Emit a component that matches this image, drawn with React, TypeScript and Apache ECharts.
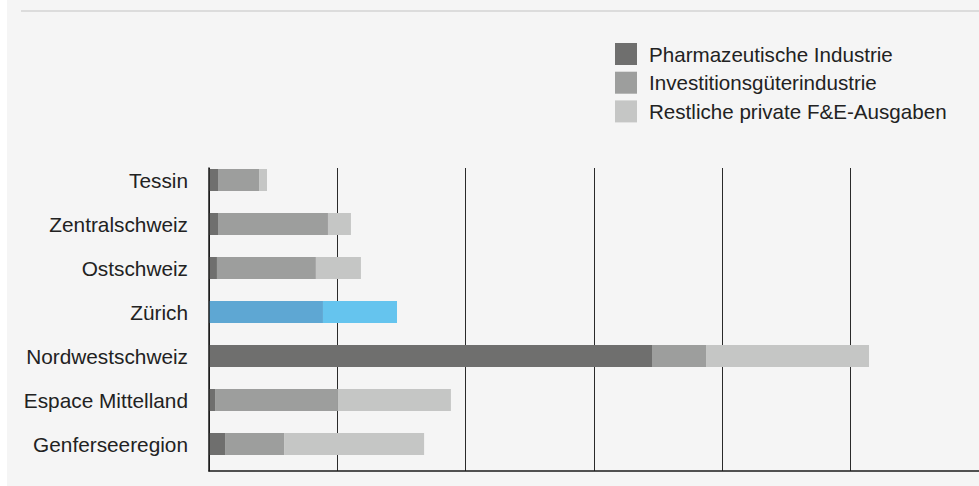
import React, { useEffect, useRef } from "react";
import * as echarts from "echarts";

const regions = [
  "Tessin",
  "Zentralschweiz",
  "Ostschweiz",
  "Zürich",
  "Nordwestschweiz",
  "Espace Mittelland",
  "Genferseeregion",
];
const seriesNames = [
  "Pharmazeutische Industrie",
  "Investitionsgüterindustrie",
  "Restliche private F&E-Ausgaben",
];
const pharma = [70, 70, 62, 0, 3452, 47, 125];
const invest = [320, 857, 771, 888, 421, 958, 460];
const rest = [62, 179, 351, 577, 1270, 880, 1091];
const axisMax = 6000;
const axisInterval = 1000;
const highlighted = "Zürich";

const grayColors = ["#6f6f6e", "#9d9e9d", "#c5c6c5"];
const blueColors = ["#5ea7d3", "#5ea7d3", "#65c4ee"];
const FONT = "'Liberation Sans', Arial, Helvetica, sans-serif";

export default function App() {
  const ref = useRef<HTMLDivElement>(null);
  useEffect(() => {
    if (!ref.current) return;
    const chart = echarts.init(ref.current, null, { renderer: "svg" });
    const values = [pharma, invest, rest];
    const series = seriesNames.map((name, si) => ({
      name,
      type: "bar",
      stack: "total",
      xAxisIndex: 0,
      yAxisIndex: 0,
      barWidth: 22,
      itemStyle: { color: grayColors[si] },
      data: values[si].map((v, i) =>
        regions[i] === highlighted
          ? { value: v, itemStyle: { color: blueColors[si] } }
          : v
      ),
      z: 2,
    }));
    chart.setOption({
      animation: false,
      backgroundColor: "transparent",
      textStyle: { fontFamily: FONT },
      graphic: [
        {
          type: "rect",
          shape: { x: 7, y: 0, width: 972, height: 486 },
          style: { fill: "#f5f5f5" },
          z: -10,
          silent: true,
        },
        {
          type: "rect",
          shape: { x: 21, y: 10, width: 958, height: 2 },
          style: { fill: "#dcdcdc" },
          z: -9,
          silent: true,
        },
      ],
      legend: {
        orient: "vertical",
        left: 615,
        top: 43,
        padding: 0,
        itemWidth: 22,
        itemHeight: 22,
        itemGap: 6.7,
        icon: "rect",
        selectedMode: false,
        data: seriesNames,
        textStyle: {
          fontSize: 20.6,
          color: "#222",
          fontFamily: FONT,
          padding: [0, 0, 2, 7],
        },
      },
      grid: [
        { left: 209, width: 770, top: 158, height: 308 },
        { left: 209, width: 772, top: 168, height: 303 },
      ],
      xAxis: [
        {
          type: "value",
          gridIndex: 0,
          min: 0,
          max: axisMax,
          interval: axisInterval,
          show: false,
        },
        {
          type: "value",
          gridIndex: 1,
          min: 0,
          max: axisMax,
          interval: axisInterval,
          axisLine: { show: true, lineStyle: { color: "#1a1a1a", width: 1.5 } },
          axisTick: { show: false },
          axisLabel: { show: false },
          splitLine: { show: true, lineStyle: { color: "#2a2a2a", width: 1 } },
        },
      ],
      yAxis: [
        {
          type: "category",
          gridIndex: 0,
          data: regions,
          inverse: true,
          axisLine: { show: false },
          axisTick: { show: false },
          splitLine: { show: false },
          axisLabel: {
            fontSize: 20.8,
            color: "#222",
            fontFamily: FONT,
            margin: 21,
            padding: [0, 0, 6, 0],
          },
        },
        {
          type: "value",
          gridIndex: 1,
          min: 0,
          max: 1,
          z: 5,
          axisLine: { show: true, lineStyle: { color: "#1a1a1a", width: 1.5 } },
          axisTick: { show: false },
          axisLabel: { show: false },
          splitLine: { show: false },
        },
      ],
      series,
    });
    return () => chart.dispose();
  }, []);
  return (
    <div
      ref={ref}
      style={{
        position: "fixed",
        left: 0,
        top: 0,
        width: 979,
        height: 486,
        background: "#ffffff",
      }}
    />
  );
}
